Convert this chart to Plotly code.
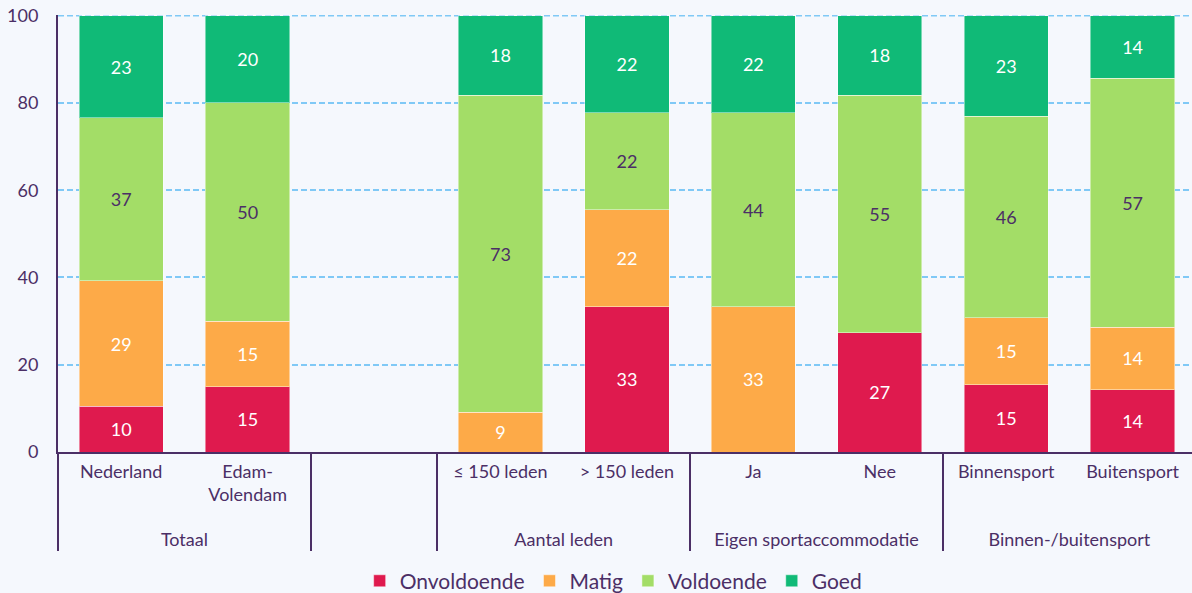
import plotly.graph_objects as go

groups = ["Totaal", "Totaal", " ", "Aantal leden", "Aantal leden",
          "Eigen sportaccommodatie", "Eigen sportaccommodatie",
          "Binnen-/buitensport", "Binnen-/buitensport"]
categories = ["Nederland", "Edam-<br>Volendam<br> ", " ", "≤ 150 leden", "> 150 leden",
              "Ja", "Nee", "Binnensport", "Buitensport"]

# percentages (unrounded) and the rounded labels shown
onvoldoende = [10.5, 15.0, None, None, 33.3, None, 27.3, 15.4, 14.3]
matig = [28.7, 15.0, None, 9.1, 22.2, 33.3, None, 15.4, 14.3]
voldoende = [37.4, 50.0, None, 72.7, 22.2, 44.5, 54.5, 46.1, 57.1]
goed = [23.4, 20.0, None, 18.2, 22.3, 22.2, 18.2, 23.1, 14.3]

onvoldoende_lbl = ["10", "15", "", "", "33", "", "27", "15", "14"]
matig_lbl = ["29", "15", "", "9", "22", "33", "", "15", "14"]
voldoende_lbl = ["37", "50", "", "73", "22", "44", "55", "46", "57"]
goed_lbl = ["23", "20", "", "18", "22", "22", "18", "23", "14"]

series = [
    ("Onvoldoende", onvoldoende, onvoldoende_lbl, "#df1a4e", "white"),
    ("Matig", matig, matig_lbl, "#fdaa48", "white"),
    ("Voldoende", voldoende, voldoende_lbl, "#a3dd67", "#4b2f66"),
    ("Goed", goed, goed_lbl, "#10ba77", "white"),
]

TEXT = "#4b2f66"
GRID = "#80c9f6"
FONT = "Lato, 'Open Sans', sans-serif"

fig = go.Figure()
for name, vals, labels, color, tcolor in series:
    fig.add_trace(go.Bar(
        x=[groups, categories], y=vals, name=name,
        marker=dict(color=color, line=dict(color="rgba(255,255,255,0.45)", width=1)),
        text=labels, textposition="inside", insidetextanchor="middle",
        textangle=0, textfont=dict(color=tcolor, size=18, family=FONT),
        hovertemplate="%{y:.1f}<extra>" + name + "</extra>",
    ))

# plotly drops the grid line at the top edge, so draw it as a shape
fig.add_hline(y=100, line=dict(color=GRID, dash="6px,3px", width=1.5), layer="below")

fig.update_layout(
    barmode="stack", bargap=0.333,
    width=1192, height=593,
    margin=dict(l=58, r=0, t=15, b=141),
    paper_bgcolor="#f5f8fd", plot_bgcolor="#f5f8fd",
    font=dict(family=FONT, color=TEXT, size=18),
    legend=dict(orientation="h", x=0.49, xanchor="center", y=0.02, yref="container",
                yanchor="middle", font=dict(size=21), traceorder="normal",
                itemwidth=30),
    uniformtext=dict(minsize=16, mode="show"),
)
fig.update_yaxes(range=[0, 100.15], tickvals=[0, 20, 40, 60, 80, 100],
                 showgrid=True, gridcolor=GRID, griddash="6px,3px", gridwidth=1.5,
                 zeroline=False, showline=True, linecolor=TEXT, linewidth=2,
                 ticks="", ticklabelstandoff=14, tickfont=dict(size=18))
fig.update_xaxes(type="multicategory", range=[-0.5, 8.47],
                 showline=True, linecolor=TEXT, linewidth=2,
                 showdividers=True, dividercolor=TEXT, dividerwidth=2,
                 ticklabelstandoff=2, tickfont=dict(size=18))

fig.write_html("out.html", config={"displayModeBar": False},
               post_script="document.body.style.margin='0';")
